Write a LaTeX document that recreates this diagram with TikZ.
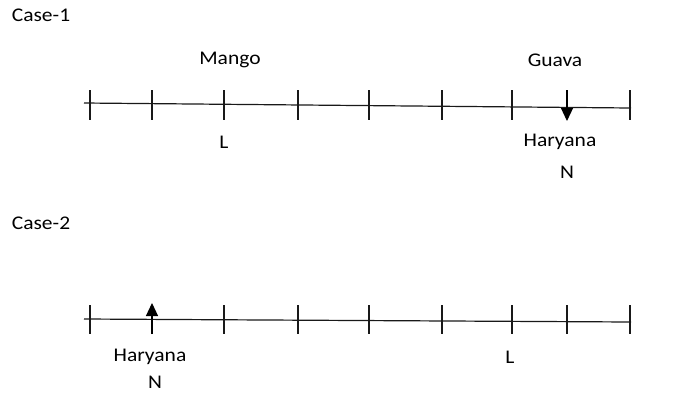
\documentclass[tikz,border=0pt]{standalone}
\usepackage{fontspec}
\setmainfont{Carlito}
\usetikzlibrary{arrows.meta}
\begin{document}
\begin{tikzpicture}[x=1pt,y=-1pt,
  lbl/.style={inner sep=0pt,font=\fontsize{21.5}{24}\selectfont,text=black,yscale=0.9,transform shape},
  axis/.style={line width=1.2pt,draw=black!90},
  tick/.style={line width=1.2pt,draw=black!90},
  pointer/.style={line width=1.2pt,draw=black,-{Triangle[length=13pt,width=12pt]}}]
\useasboundingbox (0,0) rectangle (673,392);
% Case 1
\node[lbl] (c1) at (41,15) {Case-1};
\node[lbl] (mango) at (230,60) {Mango};
\node[lbl] (guava) at (555,60) {Guava};
\coordinate (a1s) at (84,103);
\coordinate (a1e) at (631,108);
\draw[axis] (a1s) -- (a1e);
\foreach \i/\x in {1/90,2/152,3/224,4/298,5/369,6/442,7/512,9/630}{
  \coordinate (t1\i a) at (\x,90);
  \coordinate (t1\i b) at (\x,120);
  \draw[tick] (t1\i a) -- (t1\i b);
}
\coordinate (p1a) at (567,90);
\coordinate (p1b) at (567,121);
\draw[pointer] (p1a) -- (p1b);
\node[lbl] (l1) at (224,142) {L};
\node[lbl] (h1) at (560,142) {Haryana};
\node[lbl] (n1) at (567,172) {N};
% Case 2
\node[lbl] (c2) at (41,223) {Case-2};
\coordinate (a2s) at (84,319);
\coordinate (a2e) at (631,322);
\draw[axis] (a2s) -- (a2e);
\foreach \i/\x in {1/90,3/224,4/298,5/369,6/442,7/512,8/567,9/630}{
  \coordinate (t2\i a) at (\x,305);
  \coordinate (t2\i b) at (\x,334);
  \draw[tick] (t2\i a) -- (t2\i b);
}
\coordinate (p2a) at (152,334);
\coordinate (p2b) at (152,303);
\draw[pointer] (p2a) -- (p2b);
\node[lbl] (h2) at (150,357) {Haryana};
\node[lbl] (l2) at (510,357) {L};
\node[lbl] (n2) at (155,382) {N};
\end{tikzpicture}
\end{document}
